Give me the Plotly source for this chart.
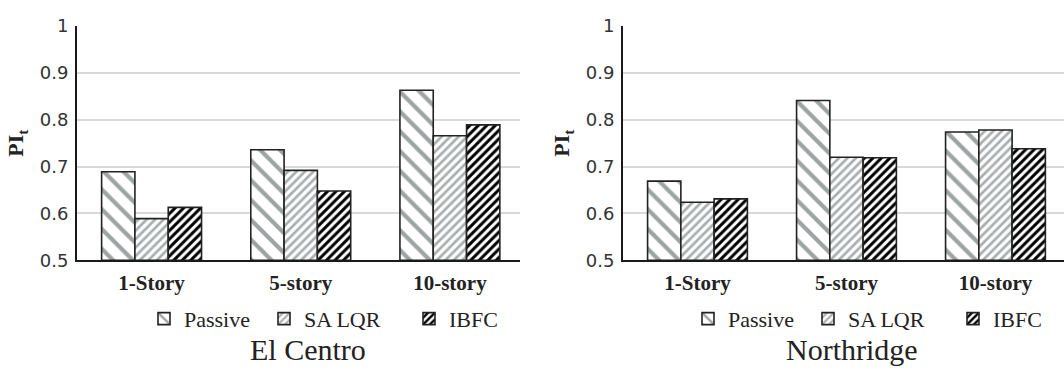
import plotly.graph_objects as go

categories = ["1-Story", "5-story", "10-story"]
series_names = ["Passive", "SA LQR", "IBFC"]
el_centro = {
    "Passive": [0.689, 0.736, 0.863],
    "SA LQR": [0.589, 0.692, 0.766],
    "IBFC": [0.613, 0.648, 0.789],
}
northridge = {
    "Passive": [0.669, 0.841, 0.774],
    "SA LQR": [0.624, 0.720, 0.778],
    "IBFC": [0.631, 0.719, 0.738],
}
panel_titles = ["El Centro", "Northridge"]
y_ticks = [0.5, 0.6, 0.7, 0.8, 0.9, 1.0]
y_ticktext = ["0.5", "0.6", "0.7", "0.8", "0.9", "1"]

W, H = 1064, 376
patterns = {
    "Passive": dict(shape="\\", fgcolor="#9ea4a3", bgcolor="white", size=14, solidity=0.3, fillmode="replace"),
    "SA LQR": dict(shape="/", fgcolor="#a9aeae", bgcolor="white", size=6, solidity=0.45, fillmode="replace"),
    "IBFC": dict(shape="/", fgcolor="#000000", bgcolor="white", size=6, solidity=0.5, fillmode="replace"),
}
legend_widths = {"Passive": 75, "SA LQR": 100, "IBFC": 52}

fig = go.Figure()
for i, (data, leg) in enumerate([(el_centro, "legend"), (northridge, "legend2")]):
    xa = "x" if i == 0 else "x2"
    ya = "y" if i == 0 else "y2"
    for name in series_names:
        fig.add_trace(go.Bar(
            x=list(range(len(categories))), y=[v - 0.5 for v in data[name]], base=0.5,
            name=name, xaxis=xa, yaxis=ya, legend=leg, legendwidth=legend_widths[name],
            marker=dict(color="white", pattern=patterns[name],
                        line=dict(color="#222222", width=1.6)),
        ))

serif = "Liberation Serif"
sans = "DejaVu Sans"
ytop = 1 - 16 / H
ybot = 1 - 264 / H
common_x = dict(tickmode="array", tickvals=[0, 1, 2], ticktext=categories,
                tickfont=dict(family=serif, size=21, color="#222", weight="bold"),
                showgrid=False, showline=True, linecolor="#1a1a1a", linewidth=2,
                ticks="", zeroline=False, fixedrange=True, ticklabelstandoff=3)
common_y = dict(range=[0.5, 1.0], tickmode="array", tickvals=y_ticks, ticktext=y_ticktext,
                tickfont=dict(family=sans, size=18, color="#333"), ticklabelstandoff=3,
                showgrid=True, gridcolor="#d9d9d9", gridwidth=1.5,
                showline=True, linecolor="#1a1a1a", linewidth=2, ticks="", zeroline=False,
                title=dict(text="PI<sub>t</sub>", font=dict(family=serif, size=22, color="#222", weight="bold"), standoff=10))

fig.update_layout(
    width=W, height=H, margin=dict(l=0, r=0, t=0, b=0),
    font=dict(family=serif, size=21, color="#222"),
    paper_bgcolor="white", plot_bgcolor="white",
    barmode="group", bargap=0.33, bargroupgap=0,
    xaxis=dict(domain=[77 / W, 520 / W], range=[-0.5, 2.47], anchor="y", **common_x),
    xaxis2=dict(domain=[623 / W, 1.0], range=[-0.5, 2.46], anchor="y2", **common_x),
    yaxis=dict(domain=[ybot, ytop], anchor="x", **common_y),
    yaxis2=dict(domain=[ybot, ytop], anchor="x2", **common_y),
    annotations=[
        dict(text=panel_titles[0], x=308 / W, y=1 - 358 / H, xref="paper", yref="paper",
             showarrow=False, font=dict(family=serif, size=30, color="#222"), xanchor="center", yanchor="middle"),
        dict(text=panel_titles[1], x=852 / W, y=1 - 358 / H, xref="paper", yref="paper",
             showarrow=False, font=dict(family=serif, size=30, color="#222"), xanchor="center", yanchor="middle"),
    ],
)
fig.update_layout(
    legend=dict(orientation="h", x=144 / W, y=1 - 326 / H, yanchor="middle", xanchor="left",
                bgcolor="rgba(0,0,0,0)", font=dict(family=serif, size=22, color="#222")),
    legend2=dict(orientation="h", x=688 / W, y=1 - 326 / H, yanchor="middle", xanchor="left",
                 bgcolor="rgba(0,0,0,0)", font=dict(family=serif, size=22, color="#222")),
)

fig.write_html("out.html", config={"displayModeBar": False})
